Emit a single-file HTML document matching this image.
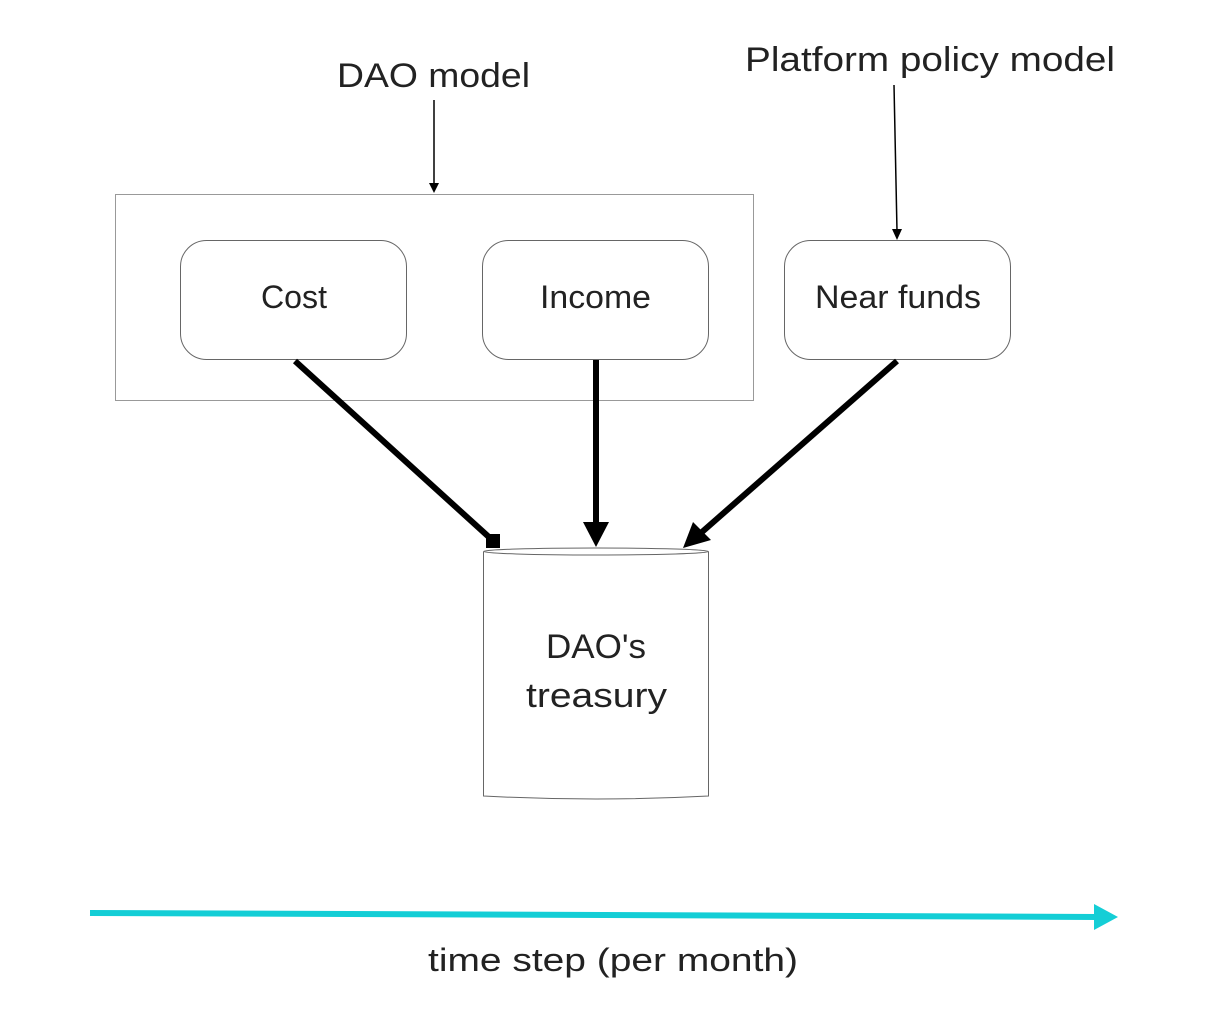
<!DOCTYPE html>
<html><head><meta charset="utf-8"><style>
html,body{margin:0;padding:0;background:#fff;}
svg{display:block;font-family:"Liberation Sans",sans-serif;}
</style></head><body>
<svg width="1228" height="1030" viewBox="0 0 1228 1030" xmlns="http://www.w3.org/2000/svg">
<rect width="1228" height="1030" fill="#fff"/>
<text x="337" y="87" font-size="34" textLength="193" lengthAdjust="spacingAndGlyphs" fill="#222">DAO model</text>
<text x="745" y="71" font-size="34" textLength="370" lengthAdjust="spacingAndGlyphs" fill="#222">Platform policy model</text>
<line x1="434" y1="100" x2="434" y2="185" stroke="#000" stroke-width="1.5"/>
<polygon points="429,183 439,183 434,193" fill="#000"/>
<line x1="894" y1="85" x2="897" y2="231" stroke="#000" stroke-width="1.5"/>
<polygon points="892,229 902,229 897,240" fill="#000"/>
<rect x="115.5" y="194.5" width="638" height="206" fill="#fff" stroke="#999" stroke-width="1"/>
<rect x="180.5" y="240.5" width="226" height="119" rx="26" fill="#fff" stroke="#666" stroke-width="1"/>
<rect x="482.5" y="240.5" width="226" height="119" rx="26" fill="#fff" stroke="#666" stroke-width="1"/>
<rect x="784.5" y="240.5" width="226" height="119" rx="26" fill="#fff" stroke="#666" stroke-width="1"/>
<text x="261" y="308" font-size="32" textLength="66" lengthAdjust="spacingAndGlyphs" fill="#222">Cost</text>
<text x="540" y="308" font-size="32" textLength="111" lengthAdjust="spacingAndGlyphs" fill="#222">Income</text>
<text x="815" y="308" font-size="32" textLength="166" lengthAdjust="spacingAndGlyphs" fill="#222">Near funds</text>
<path d="M483.5,552 L483.5,796 Q596,802 708.5,796 L708.5,552" fill="#fff" stroke="#666" stroke-width="1"/>
<ellipse cx="596" cy="551.5" rx="112.5" ry="3.5" fill="#fff" stroke="#666" stroke-width="1"/>
<text x="546" y="658" font-size="34" textLength="100" lengthAdjust="spacingAndGlyphs" fill="#222">DAO's</text>
<text x="526" y="707" font-size="34" textLength="141" lengthAdjust="spacingAndGlyphs" fill="#222">treasury</text>
<line x1="295" y1="361" x2="490" y2="538" stroke="#000" stroke-width="6"/>
<rect x="486" y="534" width="14" height="14" fill="#000"/>
<line x1="596" y1="360" x2="596" y2="525" stroke="#000" stroke-width="6"/>
<polygon points="583,522 609,522 596,547" fill="#000"/>
<line x1="897" y1="361" x2="702" y2="532" stroke="#000" stroke-width="6"/>
<polygon points="683,548 693,522 711,540" fill="#000"/>
<line x1="90" y1="913" x2="1097" y2="917" stroke="#14ced6" stroke-width="6"/>
<polygon points="1094,904 1118,917 1094,930" fill="#14ced6"/>
<text x="428" y="971" font-size="32" textLength="370" lengthAdjust="spacingAndGlyphs" fill="#222">time step (per month)</text>
</svg>
</body></html>
